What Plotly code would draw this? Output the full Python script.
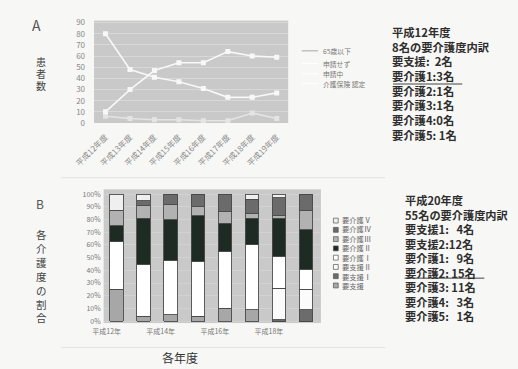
import plotly.graph_objects as go

W, H = 518, 369
JP = "Noto Sans CJK JP"


def px(x):
    return x / W


def py(y):
    return 1 - y / H


# ---- Panel A: patient counts per fiscal year ----
line_years = ["平成12年度", "平成13年度", "平成14年度", "平成15年度",
              "平成16年度", "平成17年度", "平成18年度", "平成19年度"]
line_names = ["65歳以下", "申請せず", "申請中", "介護保険 認定"]
under65 = [6, 4, 3, 3, 2, 2, 9, 4]
not_applied = [80, 48, 41, 37, 31, 23, 23, 27]
applying = []
certified = [10, 30, 47, 54, 54, 64, 60, 59]
line_values = [under65, not_applied, applying, certified]
line_colors = ["#e4e4e4", "#f8f8f8", "#f8f8f8", "#f8f8f8"]
legend_line_colors = ["#a8a8a8", "#ffffff", "#ffffff", "#ffffff"]

# ---- Panel B: share of care levels (%) ----
bar_years = ["平成12年", "平成13年", "平成14年", "平成15年",
             "平成16年", "平成17年", "平成18年", "平成19年"]
level_names = ["要支援", "要支援Ⅰ", "要支援Ⅱ", "要介護Ⅰ",
               "要介護Ⅱ", "要介護Ⅲ", "要介護Ⅳ", "要介護Ⅴ"]
level_share = {
    "要支援":  [25, 4, 5, 4, 10, 9, 0, 0],
    "要支援Ⅰ": [0, 0, 0, 0, 0, 0, 1, 9],
    "要支援Ⅱ": [0, 0, 0, 0, 0, 0, 25, 16],
    "要介護Ⅰ": [37.5, 41, 43, 43, 45, 51, 25, 16],
    "要介護Ⅱ": [12.5, 36, 32, 36, 22, 21, 30, 31],
    "要介護Ⅲ": [12.5, 10, 12, 7, 9, 4, 2, 15],
    "要介護Ⅳ": [0, 4, 8, 10, 14, 11, 14, 13],
    "要介護Ⅴ": [12.5, 5, 0, 0, 0, 4, 3, 0],
}
level_colors = {
    "要支援": "#a7a7a7", "要支援Ⅰ": "#6c6c6c", "要支援Ⅱ": "#fbfbfb",
    "要介護Ⅰ": "#ffffff", "要介護Ⅱ": "#1e2b25", "要介護Ⅲ": "#b2b2b2",
    "要介護Ⅳ": "#6b6b6b", "要介護Ⅴ": "#efefef",
}
pct_ticks = list(range(0, 101, 10))

# ---- side notes ----
notes_h12 = ["平成12年度", "8名の要介護度内訳", "要支援:\u00a0\u00a02名", "要介護1:3名",
             "要介護2:1名", "要介護3:1名", "要介護4:0名", "要介護5:\u00a01名"]
notes_h20 = ["平成20年度", "55名の要介護度内訳", "要支援1:\u00a0\u00a0\u00a04名",
             "要支援2:12名", "要介護1:\u00a0\u00a0\u00a09名", "要介護2:\u00a015名",
             "要介護3:\u00a011名", "要介護4:\u00a0\u00a0\u00a03名", "要介護5:\u00a0\u00a0\u00a01名"]
ylabel_a = "患者数"
ylabel_b = "各介護度の割合"

fig = go.Figure()

for name, vals, col in zip(line_names, line_values, line_colors):
    fig.add_trace(go.Scatter(
        x=line_years[:len(vals)], y=vals, name=name, mode="lines+markers",
        line=dict(color=col, width=1.6),
        marker=dict(symbol="square", size=5, color=col),
        xaxis="x", yaxis="y", showlegend=False,
    ))

for name in level_names:
    fig.add_trace(go.Bar(
        x=bar_years, y=level_share[name], name=name,
        marker=dict(color=level_colors[name], line=dict(color="#4a4a4a", width=0.9)),
        xaxis="x2", yaxis="y2", showlegend=False,
    ))

annotations = []
shapes = []

# panel letters and captions
annotations += [
    dict(text="A", x=px(17), y=py(22), font=dict(size=14, color="#555")),
    dict(text="B", x=px(21), y=py(204), font=dict(size=12, color="#555")),
    dict(text="各年度", x=px(166), y=py(362), font=dict(size=12, color="#333")),
]
# vertical captions, one glyph per row
for i, ch in enumerate(ylabel_a):
    annotations.append(dict(text=ch, x=px(22), y=py(59 + 12.5 * i),
                            font=dict(size=10, color="#444")))
for i, ch in enumerate(ylabel_b):
    annotations.append(dict(text=ch, x=px(22), y=py(236 + 14.3 * i),
                            font=dict(size=10.5, color="#444")))

# legend for panel A
leg_a_y = [48, 61, 71.5, 81.5]
for name, col, yy in zip(line_names, legend_line_colors, leg_a_y):
    shapes.append(dict(type="line", xref="paper", yref="paper",
                       x0=px(293), x1=px(310), y0=py(yy), y1=py(yy),
                       line=dict(color=col, width=1)))
    annotations.append(dict(text=name, x=px(313), y=py(yy), xanchor="left",
                            font=dict(size=6.8, color="#777")))

# legend for panel B (top to bottom)
legend_b = list(reversed(level_names))
for i, name in enumerate(legend_b):
    yy = 222 + 9.5 * i
    shapes.append(dict(type="rect", xref="paper", yref="paper",
                       x0=px(326), x1=px(331), y0=py(yy - 2.5), y1=py(yy + 2.5),
                       fillcolor=level_colors[name], line=dict(color="#555", width=0.7)))
annotations.append(dict(text="<br>".join(legend_b), x=px(333), y=py(222 + 9.5 * 3.5),
                        xanchor="left", align="left",
                        font=dict(size=7.3, color="#666")))

# text blocks
annotations.append(dict(text="<br>".join(notes_h12), x=px(385), y=py(81.5),
                        xanchor="left", align="left",
                        font=dict(size=11.3, color="#2e2e2e", weight="bold")))
shapes.append(dict(type="line", xref="paper", yref="paper", x0=px(388), x1=px(460),
                   y0=py(82), y1=py(82), line=dict(color="#444", width=1)))

annotations.append(dict(text="<br>".join(notes_h20), x=px(398), y=py(260),
                        xanchor="left", align="left",
                        font=dict(size=11.2, color="#2e2e2e", weight="bold")))
shapes.append(dict(type="line", xref="paper", yref="paper", x0=px(400), x1=px(483),
                   y0=py(281), y1=py(281), line=dict(color="#444", width=1)))

# faint chart frame lines
for yy in (178, 352):
    shapes.append(dict(type="line", xref="paper", yref="paper", x0=px(43), x1=px(380),
                       y0=py(yy), y1=py(yy), line=dict(color="#e2e2e2", width=1)))

for a in annotations:
    a.setdefault("xref", "paper")
    a.setdefault("yref", "paper")
    a.setdefault("showarrow", False)
    a.setdefault("xanchor", "center")
    a.setdefault("yanchor", "middle")

fig.update_layout(
    width=W, height=H, margin=dict(l=0, r=0, t=0, b=0),
    paper_bgcolor="#f7f7f5", plot_bgcolor="#c9c9c9",
    font=dict(family=JP, color="#555"),
    barmode="stack", bargap=0.5,
    annotations=annotations, shapes=shapes,
    xaxis=dict(domain=[px(77), px(279)], anchor="y", type="category",
               range=[-0.47, 7.47], tickangle=-45, showgrid=False,
               tickfont=dict(size=8, color="#8a8a8a"),
               ticks="", ticklabelstandoff=7),
    yaxis=dict(domain=[py(122), py(17)], anchor="x", range=[0, 91.8], dtick=10,
               gridcolor="#d8d8d8", gridwidth=1, zeroline=False,
               tickfont=dict(size=8, color="#8a8a8a"),
               ticks="", ticklabelstandoff=8),
    xaxis2=dict(domain=[px(87), px(313)], anchor="y2", type="category",
                range=[-0.48, 7.55], tickvals=bar_years[0::2], showgrid=False,
                tickfont=dict(size=7, color="#777"),
                ticks="", ticklabelstandoff=3, ticklabelshift=-10),
    yaxis2=dict(domain=[py(327), py(190)], anchor="x2", range=[-1.5, 103.8],
                tickvals=pct_ticks, ticktext=[f"{v}%" for v in pct_ticks],
                gridcolor="#d2d2d2", zeroline=False,
                tickfont=dict(size=7, color="#777"),
                ticks="", ticklabelstandoff=2),
)

fig.write_html("out.html")
